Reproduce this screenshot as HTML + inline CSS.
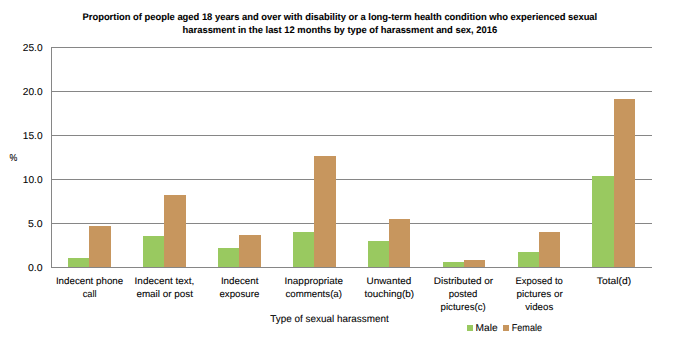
<!DOCTYPE html>
<html><head><meta charset="utf-8"><style>
html,body{margin:0;padding:0;background:#fff;}
body{width:680px;height:340px;overflow:hidden;}
svg{display:block;}
text{font-family:"Liberation Sans", sans-serif;fill:#000000;text-rendering:geometricPrecision;stroke:#000;stroke-width:0.07px;}
</style></head><body>
<svg width="680" height="340" viewBox="0 0 680 340">
<rect width="680" height="340" fill="#fff"/>
<rect x="51" y="47" width="601" height="1" fill="#868686"/>
<rect x="51" y="91" width="601" height="1" fill="#868686"/>
<rect x="51" y="135" width="601" height="1" fill="#868686"/>
<rect x="51" y="179" width="601" height="1" fill="#868686"/>
<rect x="51" y="223" width="601" height="1" fill="#868686"/>
<rect x="68" y="258" width="21" height="9" fill="#99C960"/>
<rect x="89" y="226" width="22" height="41" fill="#C7965E"/>
<rect x="143" y="236" width="21" height="31" fill="#99C960"/>
<rect x="164" y="195" width="22" height="72" fill="#C7965E"/>
<rect x="218" y="248" width="21" height="19" fill="#99C960"/>
<rect x="239" y="235" width="22" height="32" fill="#C7965E"/>
<rect x="293" y="232" width="21" height="35" fill="#99C960"/>
<rect x="314" y="156" width="22" height="111" fill="#C7965E"/>
<rect x="368" y="241" width="21" height="26" fill="#99C960"/>
<rect x="389" y="219" width="21" height="48" fill="#C7965E"/>
<rect x="443" y="262" width="21" height="5" fill="#99C960"/>
<rect x="464" y="260" width="21" height="7" fill="#C7965E"/>
<rect x="518" y="252" width="21" height="15" fill="#99C960"/>
<rect x="539" y="232" width="21" height="35" fill="#C7965E"/>
<rect x="592" y="176" width="22" height="91" fill="#99C960"/>
<rect x="614" y="99" width="21" height="168" fill="#C7965E"/>
<rect x="51" y="47" width="1" height="221" fill="#868686"/>
<rect x="51" y="267" width="601" height="1" fill="#868686"/>
<rect x="467" y="325" width="6" height="6" fill="#99C960"/>
<rect x="503" y="325" width="6" height="6" fill="#C7965E"/>
<text x="82.5" y="20" font-size="9.5" font-weight="bold" textLength="514.7" lengthAdjust="spacingAndGlyphs">Proportion of people aged 18 years and over with disability or a long-term health condition who experienced sexual</text>
<text x="182.6" y="33" font-size="9.5" font-weight="bold" textLength="314.6" lengthAdjust="spacingAndGlyphs">harassment in the last 12 months by type of harassment and sex, 2016</text>
<text x="22.8" y="50.5" font-size="10" font-weight="normal" textLength="19.8" lengthAdjust="spacingAndGlyphs">25.0</text>
<text x="22.8" y="94.5" font-size="10" font-weight="normal" textLength="19.8" lengthAdjust="spacingAndGlyphs">20.0</text>
<text x="22.8" y="138.5" font-size="10" font-weight="normal" textLength="19.8" lengthAdjust="spacingAndGlyphs">15.0</text>
<text x="22.8" y="182.5" font-size="10" font-weight="normal" textLength="19.8" lengthAdjust="spacingAndGlyphs">10.0</text>
<text x="28.0" y="226.5" font-size="10" font-weight="normal" textLength="14.6" lengthAdjust="spacingAndGlyphs">5.0</text>
<text x="28.0" y="270.5" font-size="10" font-weight="normal" textLength="14.6" lengthAdjust="spacingAndGlyphs">0.0</text>
<text x="9.4" y="161" font-size="10" font-weight="normal" textLength="7.8" lengthAdjust="spacingAndGlyphs">%</text>
<text x="55.9" y="284.0" font-size="9.5" font-weight="normal" textLength="67.3" lengthAdjust="spacingAndGlyphs">Indecent phone</text>
<text x="82.7" y="296.8" font-size="9.5" font-weight="normal" textLength="13.8" lengthAdjust="spacingAndGlyphs">call</text>
<text x="134.6" y="284.0" font-size="9.5" font-weight="normal" textLength="59.8" lengthAdjust="spacingAndGlyphs">Indecent text,</text>
<text x="136.4" y="296.8" font-size="9.5" font-weight="normal" textLength="56.6" lengthAdjust="spacingAndGlyphs">email or post</text>
<text x="220.9" y="284.0" font-size="9.5" font-weight="normal" textLength="37.6" lengthAdjust="spacingAndGlyphs">Indecent</text>
<text x="219.4" y="296.8" font-size="9.5" font-weight="normal" textLength="40.0" lengthAdjust="spacingAndGlyphs">exposure</text>
<text x="284.6" y="284.0" font-size="9.5" font-weight="normal" textLength="58.4" lengthAdjust="spacingAndGlyphs">Inappropriate</text>
<text x="285.4" y="296.8" font-size="9.5" font-weight="normal" textLength="56.6" lengthAdjust="spacingAndGlyphs">comments(a)</text>
<text x="366.5" y="284.0" font-size="9.5" font-weight="normal" textLength="44.7" lengthAdjust="spacingAndGlyphs">Unwanted</text>
<text x="364.4" y="296.8" font-size="9.5" font-weight="normal" textLength="49.7" lengthAdjust="spacingAndGlyphs">touching(b)</text>
<text x="433.8" y="284.0" font-size="9.5" font-weight="normal" textLength="59.4" lengthAdjust="spacingAndGlyphs">Distributed or</text>
<text x="448.7" y="296.8" font-size="9.5" font-weight="normal" textLength="28.7" lengthAdjust="spacingAndGlyphs">posted</text>
<text x="440.5" y="309.6" font-size="9.5" font-weight="normal" textLength="45.3" lengthAdjust="spacingAndGlyphs">pictures(c)</text>
<text x="515.5" y="284.0" font-size="9.5" font-weight="normal" textLength="47.3" lengthAdjust="spacingAndGlyphs">Exposed to</text>
<text x="516.6" y="296.8" font-size="9.5" font-weight="normal" textLength="46.2" lengthAdjust="spacingAndGlyphs">pictures or</text>
<text x="525.2" y="309.6" font-size="9.5" font-weight="normal" textLength="28.1" lengthAdjust="spacingAndGlyphs">videos</text>
<text x="596.8" y="284.0" font-size="9.5" font-weight="normal" textLength="34.3" lengthAdjust="spacingAndGlyphs">Total(d)</text>
<text x="270.3" y="322" font-size="10" font-weight="normal" textLength="118.4" lengthAdjust="spacingAndGlyphs">Type of sexual harassment</text>
<text x="475.6" y="330.6" font-size="10" font-weight="normal" textLength="22.1" lengthAdjust="spacingAndGlyphs">Male</text>
<text x="511.8" y="330.6" font-size="10" font-weight="normal" textLength="30.2" lengthAdjust="spacingAndGlyphs">Female</text>
</svg>
</body></html>
